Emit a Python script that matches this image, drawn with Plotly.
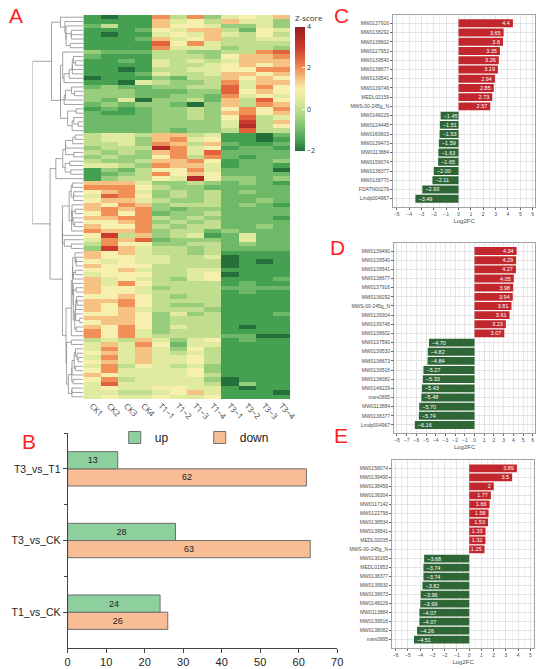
import numpy as np
import plotly.graph_objects as go

W, H = 550, 669

# ---- panel A: heatmap of z-scores ----
samples = ["CK1", "CK2", "CK3", "CK4", "T1\u22121", "T1\u22122", "T1\u22123", "T1\u22124",
           "T3\u22121", "T3\u22122", "T3\u22123", "T3\u22124"]

# one character per cell: '0' = -2 ... 'C' = 4 in 0.5 steps
levels = "0123456789ABC"
heat_rows = [
    "101184835657", "111175647553", "241176653353", "111265774265",
    "101156575464", "111275674455", "111196854444", "111185553443",
    "322244334489", "211144436778", "112154545777", "111154456767",
    "110144556688", "111254457767", "011132447676", "110543348577",
    "232233449586", "333222339676", "333223328565", "325033427496",
    "232332037487", "121233436868", "211233437867", "222233436945",
    "222233335A47", "222233335B46", "222232334944", "455477451102",
    "455378561101", "445387472112", "3444B8561221", "434378592222",
    "343368482122", "433477861223", "554387751221", "132466852220",
    "123486762222", "134465B63323", "777533432321", "888643322222",
    "678534342322", "598634342222", "677543342232", "768734442321",
    "787832332222", "686823342222", "778843432221", "667834342222",
    "766843442232", "877834423222", "6A4734512522", "587923332522",
    "486633442322", "3A7544342222", "767544341111", "766554450111",
    "656554440101", "766644440111", "667544551111", "566644560111",
    "756543561112", "758644441211", "766534442222", "766544441211",
    "667643441111", "778644441111", "768643341111", "767544431111",
    "667635341112", "777634441111", "677634441111", "768635441011",
    "868534441111", "868544442200", "454753561211", "575862551111",
    "585753641111", "675754541111", "585755641111", "675755641111",
    "584654531111", "685555631111", "765555641111", "684555530111",
    "595555540311", "565566551011", "554456751110", "565565561111",
]

# ---- panel B: numbers of differential metabolites ----
comparisons = ["T1_vs_CK", "T3_vs_CK", "T3_vs_T1"]
up_counts = [24, 28, 13]
down_counts = [26, 63, 62]

# ---- panels C, D, E: top metabolites by Log2FC ----
c_names = ["MW0137916", "MW0138292", "MW0138602", "MW0127953", "MW0139540", "MW0138677",
           "MW0139541", "MW0139746", "MEDL02159", "MWS-00-245g_N", "MW0148229", "MW0124445",
           "MW0169603", "MW0139473", "MW0113884", "MW0158074", "MW0138377", "MW0138770",
           "FDATN00279", "Lmdp004967"]
c_fc = [4.4, 3.65, 3.6, 3.35, 3.26, 3.19, 2.94, 2.85, 2.73, 2.57,
        -1.45, -1.51, -1.53, -1.59, -1.63, -1.65, -2.00, -2.11, -2.93, -3.49]

d_names = ["MW0139490", "MW0139540", "MW0139541", "MW0138677", "MW0137916", "MW0138292",
           "MWS-00-245g_N", "MW0139304", "MW0139746", "MW0138602", "MW0137590", "MW0139530",
           "MW0138673", "MW0139516", "MW0138082", "MW0148229", "mws0895", "MW0113884",
           "MW0138377", "Lmdp004967"]
d_fc = [4.34, 4.29, 4.27, 4.05, 3.98, 3.94, 3.81, 3.61, 3.23, 3.07,
        -4.70, -4.82, -4.84, -5.27, -5.33, -5.43, -5.48, -5.70, -5.74, -6.16]

e_names = ["MW0158074", "MW0139490", "MW0138459", "MW0139304", "MW0117142", "MW0122798",
           "MW0138534", "MW0139541", "MEDL02035", "MWS-00-245g_N", "MW0130165", "MEDL01953",
           "MW0138377", "MW0139530", "MW0138673", "MW0148229", "MW0113884", "MW0139516",
           "MW0138082", "mws0895"]
e_fc = [3.89, 3.5, 2, 1.77, 1.66, 1.58, 1.53, 1.33, 1.32, 1.25,
        -3.68, -3.74, -3.74, -3.82, -3.96, -3.99, -4.07, -4.07, -4.26, -4.51]


def px(x):
    return x / W


def py(y):
    return 1 - y / H


zmat = np.array([[-2 + 0.5 * levels.index(ch) for ch in row] for row in heat_rows])
nrow = len(heat_rows)

# row dendrogram: average linkage, only neighbouring clusters may merge (keeps row order)
clusters = [[i] for i in range(nrow)]
pos = [float(i) for i in range(nrow)]
hgt = [0.0] * nrow
dx, dy = [], []
while len(clusters) > 1:
    best_k, best_d = 0, None
    for k in range(len(clusters) - 1):
        a = zmat[clusters[k]]
        b = zmat[clusters[k + 1]]
        d = np.sqrt(((a[:, None, :] - b[None, :, :]) ** 2).sum(-1)).mean()
        if best_d is None or d < best_d:
            best_k, best_d = k, d
    k = best_k
    h = max(best_d, hgt[k], hgt[k + 1])
    dx += [hgt[k], h, h, hgt[k + 1], None]
    dy += [pos[k], pos[k], pos[k + 1], pos[k + 1], None]
    clusters[k:k + 2] = [clusters[k] + clusters[k + 1]]
    pos[k:k + 2] = [(pos[k] + pos[k + 1]) / 2]
    hgt[k:k + 2] = [h]
hmax = hgt[0]

heat_scale = [[0, "#25703a"], [0.5 / 6, "#46a052"], [1 / 6, "#6db968"], [1.5 / 6, "#98cd7b"],
              [2 / 6, "#c0de8d"], [2.5 / 6, "#e0eba0"], [3 / 6, "#f6efad"],
              [3.5 / 6, "#f6c283"], [4 / 6, "#f08f56"], [4.5 / 6, "#e2623c"],
              [5 / 6, "#cc3a2d"], [1, "#981b20"]]

fig = go.Figure()

fig.add_trace(go.Heatmap(
    z=zmat, x=samples, y=list(range(nrow)), zmin=-2, zmax=4, colorscale=heat_scale,
    xaxis="x", yaxis="y", hoverinfo="skip",
    colorbar=dict(x=px(298), xanchor="left", y=py(88.5), yanchor="middle", len=124 / H,
                  thickness=10, outlinewidth=0, xpad=0, ypad=0,
                  tickvals=[-2, 0, 2, 4], ticks="inside", tickcolor="white", ticklen=3,
                  tickfont=dict(size=7, color="#333", family="Open Sans"))))

fig.add_trace(go.Scatter(x=dx, y=dy, mode="lines", xaxis="x2", yaxis="y2",
                         line=dict(color="#8a8a8a", width=0.8), cliponaxis=False,
                         showlegend=False, hoverinfo="skip"))

# panel B
ypos = list(range(len(comparisons)))
bar_line = dict(color="#6e6e6e", width=1)
fig.add_trace(go.Bar(y=ypos, x=down_counts, orientation="h", name="down",
                     xaxis="x3", yaxis="y3", width=0.24, offset=-0.24,
                     marker=dict(color="#f8bd95", line=bar_line),
                     text=down_counts, textposition="inside", insidetextanchor="middle",
                     textfont=dict(size=9, color="#222"), legendrank=2))
fig.add_trace(go.Bar(y=ypos, x=up_counts, orientation="h", name="up",
                     xaxis="x3", yaxis="y3", width=0.24, offset=0,
                     marker=dict(color="#8ed09d", line=bar_line),
                     text=up_counts, textposition="inside", insidetextanchor="middle",
                     textfont=dict(size=9, color="#222"), legendrank=1))


def fc_label(v):
    return f"{v:g}" if v > 0 else f"\u2212{abs(v):.2f}"


panels = [("x4", "y4", c_names, c_fc), ("x5", "y5", d_names, d_fc), ("x6", "y6", e_names, e_fc)]
for xa, ya, names, fc in panels:
    fig.add_trace(go.Bar(
        y=list(range(len(names))), x=fc, orientation="h", xaxis=xa, yaxis=ya, width=0.86,
        marker=dict(color=["#c1272d" if v > 0 else "#2e6636" for v in fc], line=dict(width=0)),
        text=[fc_label(v) for v in fc], textposition="inside", insidetextanchor="end",
        textangle=0, constraintext="none",
        textfont=dict(size=5.5, color="white", family="Liberation Sans"),
        showlegend=False, hoverinfo="skip"))

small_font = dict(size=5, color="#4d4d4d", family="Liberation Sans")


def fc_axes(xdom, ydom, xrange, ticks, names, pad, yanchor, xanchor):
    xa = dict(domain=xdom, anchor=yanchor, range=xrange, tickvals=ticks,
              showline=True, mirror=True, linecolor="#a3a3a3", linewidth=1,
              showgrid=True, gridcolor="#e4e4e4", gridwidth=0.6, zeroline=False,
              minor=dict(dtick=0.5, showgrid=True, gridcolor="#f1f1f1", gridwidth=0.5),
              ticks="outside", ticklen=2, tickcolor="#666", tickfont=small_font,
              title=dict(text="Log2FC", font=dict(size=6, color="#4d4d4d"), standoff=2))
    ya = dict(domain=ydom, anchor=xanchor, range=[len(names) - 1 + pad, -pad],
              tickvals=list(range(len(names))), ticktext=names,
              showline=True, mirror=True, linecolor="#a3a3a3", linewidth=1,
              showgrid=True, gridcolor="#e4e4e4", gridwidth=0.6, zeroline=False,
              ticks="outside", ticklen=2, tickcolor="#666", tickfont=small_font)
    return xa, ya


x4, y4 = fc_axes([px(398), px(543)], [py(207), py(15)], [-5.3, 6.2], list(range(-5, 7)),
                 c_names, 0.9, "y4", "x4")
x5, y5 = fc_axes([px(399), px(543)], [py(433), py(243)], [-8.3, 6.25], list(range(-8, 7)),
                 d_names, 0.88, "y5", "x5")
x6, y6 = fc_axes([px(397), px(542)], [py(648), py(460)], [-6.3, 5.3], list(range(-6, 6)),
                 e_names, 0.92, "y6", "x6")

fig.update_layout(
    width=W, height=H, autosize=False, margin=dict(l=0, r=0, t=0, b=0),
    paper_bgcolor="white", plot_bgcolor="white", barmode="overlay",
    font=dict(family="Liberation Sans"),
    xaxis=dict(domain=[px(82), px(293)], anchor="y", tickangle=45, ticks="",
               tickfont=dict(size=8, color="#444", family="Open Sans"), showline=False),
    yaxis=dict(domain=[py(399), py(15)], anchor="x", range=[nrow - 0.5, -0.5], visible=False),
    xaxis2=dict(domain=[px(30), px(82)], anchor="y2", range=[hmax, 0], visible=False),
    yaxis2=dict(domain=[py(399), py(15)], anchor="x2", range=[nrow - 0.5, -0.5], visible=False),
    xaxis3=dict(domain=[px(66), px(341)], anchor="y3", range=[0, 70], dtick=10,
                showline=True, linecolor="#444", linewidth=1, showgrid=False, zeroline=False,
                ticks="outside", ticklen=4, tickcolor="#444",
                tickfont=dict(size=11, color="#222")),
    yaxis3=dict(domain=[py(648), py(433)], anchor="x3", range=[-0.5, 2.5],
                tickvals=ypos, ticktext=comparisons,
                showline=True, linecolor="#444", linewidth=1, showgrid=False, zeroline=False,
                ticks="outside", ticklen=4, tickcolor="#444",
                tickfont=dict(size=10.5, color="#222"),
                minor=dict(tickvals=[0.5, 1.5, 2.5], ticks="outside", ticklen=3,
                           tickcolor="#444", showgrid=False)),
    xaxis4=x4, yaxis4=y4, xaxis5=x5, yaxis5=y5, xaxis6=x6, yaxis6=y6,
    showlegend=True,
    legend=dict(orientation="h", x=px(114), xanchor="left", y=py(423), yanchor="top",
                font=dict(size=12, color="#222"), itemwidth=30, entrywidth=40,
                entrywidthmode="pixels", bgcolor="rgba(0,0,0,0)", traceorder="normal"),
)

letters = [("A", 13, 15.5), ("B", 27, 441.5), ("C", 345, 15.5), ("D", 341, 247.5), ("E", 345, 436)]
for txt, lx, ly in letters:
    fig.add_annotation(text=txt, x=px(lx), y=py(ly), xref="paper", yref="paper",
                       showarrow=False, xanchor="center", yanchor="middle",
                       font=dict(size=21, color="#ff1f1f", family="Liberation Sans"))

fig.add_annotation(text="Z-score", x=px(296), y=py(17), xref="paper", yref="paper",
                   showarrow=False, xanchor="left", yanchor="middle",
                   font=dict(size=8, color="#333", family="Open Sans"))

# the page's default body margin would push the 550x669 figure off the window
fig.write_html("out.html", config={"displayModeBar": False},
               post_script="document.body.style.margin = '0';")
